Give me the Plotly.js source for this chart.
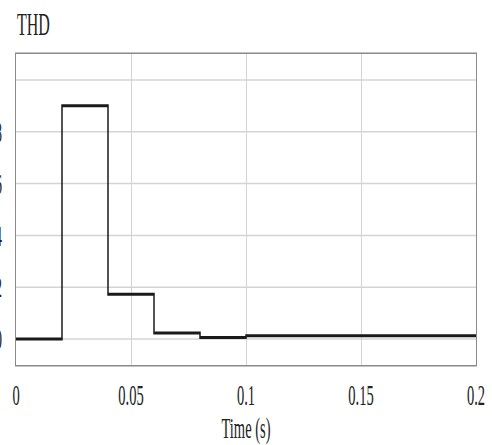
<!DOCTYPE html>
<html>
<head>
<meta charset="utf-8">
<script src="https://cdn.plot.ly/plotly-3.0.1.min.js"></script>
<style>
  html, body { margin: 0; padding: 0; overflow: hidden; background: #fff; }
  #wrap { width: 984px; height: 445px; transform: scaleX(0.5); transform-origin: 0 0; }
</style>
</head>
<body>
<div id="wrap"></div>
<script>
// Data
const time = [0, 0.02, 0.04, 0.06, 0.08, 0.1, 0.2];
const thd = [0, 9.0, 1.73, 0.23, 0.06, 0.13, 0.13];
const xTickVals = [0, 0.05, 0.1, 0.15, 0.2];
const xTickText = ['0', '0.05', '0.1', '0.15', '0.2'];
const yTickVals = [0, 2, 4, 6, 8, 10];
const yTickText = ['0', '2', '4', '6', '8', ''];

const font = 'Liberation Serif, Times New Roman, serif';
const ink = '#222';

const trace = {
  x: time,
  y: thd,
  type: 'scatter',
  mode: 'lines',
  line: { shape: 'hv', color: '#1a1a1a', width: 3 },
  hoverinfo: 'skip'
};

const layout = {
  width: 984,
  height: 445,
  margin: { l: 32, r: 32, t: 54, b: 80 },
  paper_bgcolor: '#fff',
  plot_bgcolor: '#fff',
  showlegend: false,
  font: { family: font, color: ink, size: 29 },
  title: {
    text: 'THD',
    font: { family: font, size: 32, color: ink },
    xref: 'container', yref: 'container',
    x: 34 / 984, xanchor: 'left',
    y: 1 - 24 / 445, yanchor: 'middle'
  },
  xaxis: {
    range: [0, 0.2],
    tickvals: xTickVals,
    ticktext: xTickText,
    ticks: '',
    showgrid: true,
    gridcolor: '#d4d4d4',
    gridwidth: 2,
    zeroline: false,
    showline: true,
    mirror: true,
    linecolor: '#8a8a8a',
    linewidth: 1.5,
    ticklabelstandoff: 4,
    tickfont: { family: font, size: 29, color: ink },
    title: { text: 'Time (s)', font: { family: font, size: 29, color: ink }, standoff: 12 }
  },
  yaxis: {
    range: [-1, 11],
    tickvals: yTickVals,
    ticktext: yTickText,
    ticks: '',
    showgrid: true,
    gridcolor: '#d4d4d4',
    gridwidth: 1.5,
    zeroline: false,
    showline: true,
    mirror: true,
    linecolor: '#8a8a8a',
    linewidth: 2,
    ticklabelstandoff: 20,
    tickfont: { family: font, size: 29, color: ink }
  }
};

Plotly.newPlot('wrap', [trace], layout, { displayModeBar: false, responsive: false, staticPlot: true });
</script>
</body>
</html>
